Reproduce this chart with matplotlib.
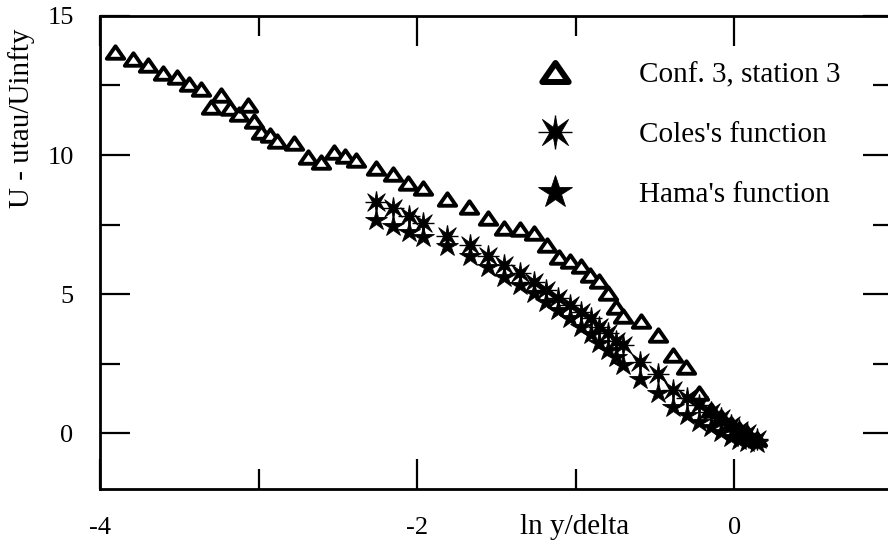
import matplotlib
matplotlib.use("Agg")
import matplotlib.pyplot as plt
import numpy as np
from matplotlib.path import Path
from matplotlib.markers import MarkerStyle
from matplotlib.lines import Line2D
from matplotlib.legend_handler import HandlerTuple

# ---------------- data ----------------
conf_x = [-3.906, -3.794, -3.696, -3.605, -3.517, -3.440, -3.364, -3.238, -3.303, -3.181,
          -3.123, -3.066, -3.030, -2.982, -2.929, -2.881, -2.778, -2.688, -2.604, -2.523,
          -2.454, -2.385, -2.262, -2.153, -2.056, -1.966, -1.812, -1.672, -1.555, -1.450,
          -1.352, -1.266, -1.182, -1.103, -1.034, -0.968, -0.908, -0.853, -0.799, -0.749,
          -0.700, -0.591, -0.482, -0.390, -0.304, -0.222, -0.148, -0.085, -0.022, 0.030,
          0.082, 0.144]
conf_y = [13.69, 13.45, 13.23, 12.94, 12.79, 12.55, 12.37, 12.15, 11.74, 11.68,
          11.46, 11.80, 11.22, 10.84, 10.72, 10.51, 10.44, 9.92, 9.76, 10.10,
          9.95, 9.82, 9.54, 9.31, 9.00, 8.80, 8.43, 8.14, 7.72, 7.39,
          7.34, 7.21, 6.77, 6.33, 6.19, 6.03, 5.69, 5.47, 5.06, 4.55,
          4.20, 4.04, 3.52, 2.81, 2.40, 1.44, 0.85, 0.60, 0.35, 0.15,
          0.02, -0.20]

func_x = [-2.262, -2.153, -2.054, -1.964, -1.812, -1.670, -1.555, -1.450, -1.353, -1.265,
          -1.185, -1.111, -1.035, -0.965, -0.905, -0.851, -0.799, -0.749, -0.702, -0.596,
          -0.484, -0.387, -0.300, -0.221, -0.148, -0.085, -0.022, 0.030, 0.082, 0.144]
coles_y = [8.32, 8.08, 7.82, 7.55, 7.09, 6.75, 6.36, 6.05, 5.75, 5.45,
           5.15, 4.85, 4.61, 4.37, 4.13, 3.83, 3.59, 3.33, 3.17, 2.57,
           2.13, 1.56, 1.26, 1.02, 0.78, 0.54, 0.30, 0.12, 0.00, -0.22]
hama_y = [7.66, 7.45, 7.24, 7.04, 6.73, 6.37, 5.96, 5.63, 5.33, 5.03,
          4.73, 4.43, 4.13, 3.83, 3.57, 3.23, 2.99, 2.75, 2.45, 1.95,
          1.44, 0.96, 0.66, 0.42, 0.24, 0.06, -0.12, -0.24, -0.30, -0.35]

labels = ["Conf. 3, station 3", "Coles's function", "Hama's function"]
xticks_major = [-4, -2, 0]
yticks_major = [0, 5, 10, 15]

# ---------------- style ----------------
SERIF = ["Liberation Serif", "DejaVu Serif"]
plt.rcParams["font.family"] = SERIF

fig = plt.figure(figsize=(8.88, 5.5), dpi=100)
W, H = 888.0, 550.0
ax = fig.add_axes([100 / W, 1 - 489 / H, 793 / W, (489 - 15.85) / H])

# slightly flattened open triangle marker
tri_path = Path([(-1, -0.72), (1, -0.72), (0, 0.72), (-1, -0.72)],
                [Path.MOVETO, Path.LINETO, Path.LINETO, Path.CLOSEPOLY])
tri_marker = MarkerStyle(tri_path, joinstyle="miter")

# Coles body: six-spike filled star (up, down, four diagonals)
tips = [(0, 11), (9, 9), (9, -9), (0, -11), (-9, -9), (-9, 9)]
verts = []
ang_tip = [np.arctan2(t[1], t[0]) for t in tips]
for i, t in enumerate(tips):
    verts.append(t)
    a0 = ang_tip[i]
    a1 = ang_tip[(i + 1) % len(tips)]
    da = (a1 - a0) % (2 * np.pi)
    if da > np.pi:
        da -= 2 * np.pi
    am = a0 + da / 2
    verts.append((3.8 * np.cos(am), 3.8 * np.sin(am)))
verts.append(verts[0])
codes = [Path.MOVETO] + [Path.LINETO] * (len(verts) - 2) + [Path.CLOSEPOLY]
coles_marker = MarkerStyle(Path(verts, codes), joinstyle="miter")

ax.plot(conf_x, conf_y, linestyle="none", marker=tri_marker, ms=12.5, mew=2.8,
        mfc="white", mec="black", zorder=3)
ax.plot(func_x, coles_y, linestyle="none", marker=coles_marker, ms=15.5, mew=0.6,
        mfc="black", mec="black", zorder=4)
ax.plot(func_x, coles_y, linestyle="none", marker="+", ms=16.5, mew=1.0,
        color="black", zorder=4)
ax.plot(func_x, hama_y, linestyle="none", marker="*", ms=16, mew=0.6,
        mfc="black", mec="black", zorder=5)

ax.set_xlim(-4, 1)
ax.set_ylim(-2, 15)
ax.set_xticks(xticks_major)
ax.set_xticks([-3, -1], minor=True)
ax.set_yticks(yticks_major)
ax.set_yticks([2.5, 7.5, 12.5], minor=True)
ax.set_xticklabels([str(v) for v in xticks_major])
ax.set_yticklabels([str(v) for v in yticks_major])

ax.tick_params(which="both", direction="in", top=True, right=True, color="black")
ax.tick_params(which="major", length=21.5, width=1.6, labelsize=19)
ax.tick_params(which="minor", length=14.4, width=1.6)
ax.tick_params(axis="x", which="major", pad=20)
ax.tick_params(axis="y", which="major", pad=19)
for sp in ax.spines.values():
    sp.set_linewidth(2.0)

# axis labels
fig.text(575 / W, 1 - 527 / H, "ln y/delta", ha="center", va="center", fontsize=21)
fig.text(22 / W, 1 - 118 / H, "U - utau/Uinfty", ha="center", va="center",
         rotation=90, fontsize=21)

# legend
h_tri = Line2D([], [], linestyle="none", marker=tri_marker, ms=19, mew=4.3,
               mfc="white", mec="black")
h_cb = Line2D([], [], linestyle="none", marker=coles_marker, ms=23, mew=0.6,
              mfc="black", mec="black")
h_cp = Line2D([], [], linestyle="none", marker="+", ms=24, mew=1.0, color="black")
h_hm = Line2D([], [], linestyle="none", marker="*", ms=25, mew=0.6,
              mfc="black", mec="black")
leg = ax.legend([h_tri, (h_cb, h_cp), h_hm], labels,
                handler_map={tuple: HandlerTuple(ndivide=1, pad=0)},
                loc="upper left", bbox_to_anchor=(526 / W, 1 - 62 / H),
                bbox_transform=fig.transFigure, frameon=False, fontsize=21,
                handlelength=2.0, handletextpad=1.88, borderpad=0,
                borderaxespad=0, labelspacing=1.14)

fig.savefig("out.png", dpi=100)
